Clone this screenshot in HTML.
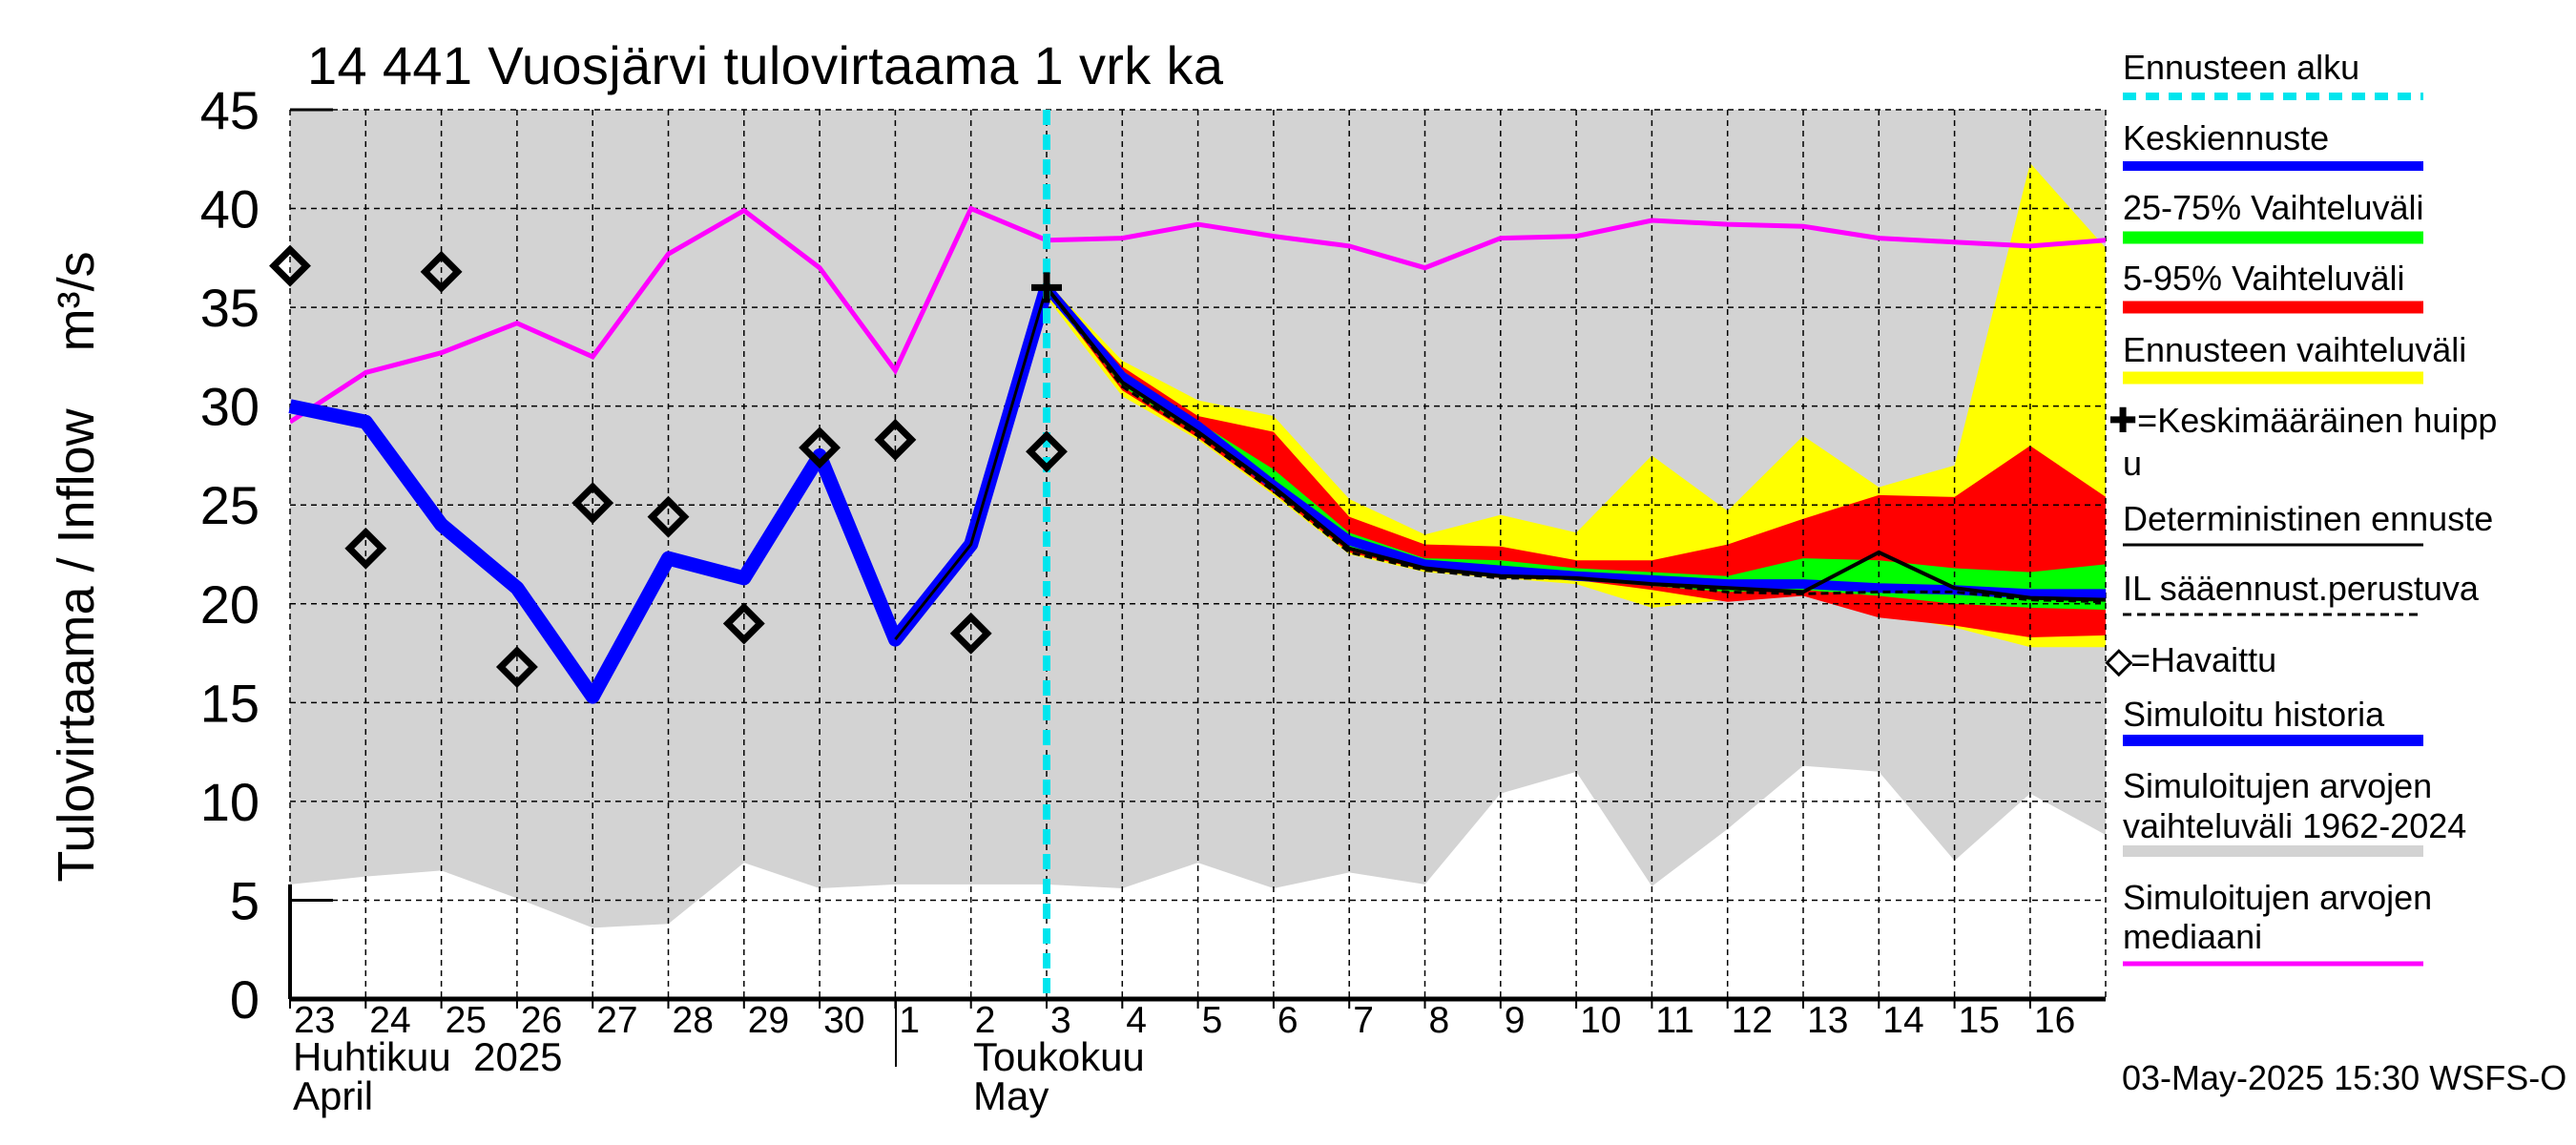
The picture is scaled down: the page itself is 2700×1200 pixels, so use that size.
<!DOCTYPE html>
<html><head><meta charset="utf-8"><style>
html,body{margin:0;padding:0;background:#fff}
svg{display:block;font-family:"Liberation Sans",sans-serif}
</style></head><body>
<svg id="chart" width="2700" height="1200" viewBox="0 0 2700 1200" xmlns="http://www.w3.org/2000/svg"></svg>
<script>
const dayLabels=["23","24","25","26","27","28","29","30","1","2","3","4","5","6","7","8","9","10","11","12","13","14","15","16"];
const yTicks=[0,5,10,15,20,25,30,35,40,45];
const simHistory=[30.0,29.2,24.0,20.8,15.3,22.3,21.3,27.5,18.2,23.0,36.0];
const observed=[37.1,22.8,36.8,16.8,25.1,24.4,19.0,27.9,28.3,18.5,27.7];
const median=[29.2,31.7,32.7,34.2,32.5,37.7,39.9,37.0,31.8,40.0,38.4,38.5,39.2,38.6,38.1,37.0,38.5,38.6,39.4,39.2,39.1,38.5,38.3,38.1,38.4];
const histMin=[5.8,6.2,6.5,5.1,3.6,3.8,6.9,5.6,5.8,5.8,5.8,5.6,6.9,5.6,6.4,5.8,10.4,11.5,5.7,8.6,11.8,11.5,7.0,10.4,8.3];
const yelHi=[36.3,32.3,30.3,29.5,25.3,23.5,24.5,23.6,27.5,24.7,28.5,25.9,27.0,42.3,38.0];
const redHi=[36.1,32.0,29.5,28.7,24.4,23.0,22.9,22.2,22.2,23.0,24.3,25.5,25.4,28.0,25.4];
const grnHi=[36.0,31.8,29.2,26.8,23.6,22.3,22.2,21.8,21.6,21.4,22.3,22.2,21.8,21.6,22.0];
const grnLo=[35.9,31.0,28.6,25.8,22.8,21.8,21.4,21.2,20.9,20.6,20.7,20.4,20.0,19.8,19.7];
const redLo=[35.8,30.8,28.4,25.6,22.6,21.7,21.3,21.2,20.7,20.1,20.4,19.3,18.9,18.3,18.4];
const yelLo=[35.5,30.5,28.3,25.5,22.5,21.6,21.3,21.0,19.8,20.2,20.6,19.5,18.8,17.8,17.8];
const meanFc=[36.0,31.5,29.0,26.0,23.2,22.0,21.7,21.4,21.2,21.0,21.0,20.8,20.7,20.5,20.5];
const determ=[36.0,31.2,28.7,25.9,22.8,21.8,21.4,21.3,21.0,20.8,20.6,22.6,20.8,20.3,20.2];
const ilFc=[36.0,31.0,28.5,25.7,22.6,21.7,21.3,21.3,21.0,20.6,20.5,20.6,20.6,20.2,20.1];
const peakDay=10, peakVal=36.0, fcStart=10;

const L=304,R=2207,T=115,B=1047,DAYW=79.3;
const X=d=>L+d*DAYW, Y=v=>B-v*(B-T)/45;
const svg=document.getElementById('chart');
const NS='http://www.w3.org/2000/svg';
function mk(tag,at,parent){const e=document.createElementNS(NS,tag);for(const k in at)e.setAttribute(k,at[k]);(parent||svg).appendChild(e);return e;}
function pts(arr,off){return arr.map((v,i)=>X(i+off).toFixed(1)+','+Y(v).toFixed(1)).join(' ');}
function band(hi,lo,off){return pts(hi,off)+' '+lo.map((v,i)=>[i,v]).reverse().map(([i,v])=>X(i+off).toFixed(1)+','+Y(v).toFixed(1)).join(' ');}

const defs=mk('defs',{});const cp=mk('clipPath',{id:'pc'},defs);mk('rect',{x:L,y:T,width:R-L,height:B-T},cp);
let g=mk('polygon',{points:X(0)+','+T+' '+X(24)+','+T+' '+pts(histMin,0).split(' ').reverse().join(' '),fill:'#d3d3d3','clip-path':'url(#pc)'});


[[yelHi,yelLo,'#ffff00','forecast-range-band'],[redHi,redLo,'#ff0000','band-5-95'],[grnHi,grnLo,'#00ff00','band-25-75']].forEach(b=>{
 const p=mk('polygon',{points:band(b[0],b[1],fcStart),fill:b[2],'clip-path':'url(#pc)'});
 
 
});
for(let d=0;d<=23;d++){mk('line',{x1:X(d),y1:T,x2:X(d),y2:B,stroke:'#000','stroke-width':1.5,'stroke-dasharray':'6,5'});}
mk('line',{x1:R,y1:T,x2:R,y2:B,stroke:'#000','stroke-width':1.5,'stroke-dasharray':'6,5'});
yTicks.forEach(v=>{if(v>0)mk('line',{x1:L,y1:Y(v),x2:R,y2:Y(v),stroke:'#000','stroke-width':1.5,'stroke-dasharray':'6,5'});});
mk('line',{x1:L,y1:Y(histMin[0]),x2:L,y2:B,stroke:'#000','stroke-width':4});
mk('line',{x1:L,y1:B,x2:R,y2:B,stroke:'#000','stroke-width':5});
mk('line',{x1:L,y1:Y(45),x2:L+45,y2:Y(45),stroke:'#000','stroke-width':3});
mk('line',{x1:L,y1:Y(5),x2:L+45,y2:Y(5),stroke:'#000','stroke-width':3});
for(let d=0;d<=23;d++)mk('line',{x1:X(d),y1:B,x2:X(d),y2:B+10,stroke:'#000','stroke-width':2});
let m=mk('polyline',{points:pts(median,0),fill:'none',stroke:'#ff00ff','stroke-width':5,'clip-path':'url(#pc)'});


let h=mk('polyline',{points:pts(simHistory,0),fill:'none',stroke:'#0000ff','stroke-width':15,'stroke-linejoin':'round'});


mk('polyline',{points:pts(simHistory.slice(8),8),fill:'none',stroke:'#000','stroke-width':3});
let mf=mk('polyline',{points:pts(meanFc,fcStart),fill:'none',stroke:'#0000ff','stroke-width':10});


let il=mk('polyline',{points:pts(ilFc,fcStart),fill:'none',stroke:'#000','stroke-width':3,'stroke-dasharray':'8,5'});


let dl=mk('polyline',{points:pts(determ,fcStart),fill:'none',stroke:'#000','stroke-width':4});


let fs=mk('line',{x1:X(fcStart),y1:T,x2:X(fcStart),y2:B,stroke:'#00e5ee','stroke-width':8,'stroke-dasharray':'16,10'});


observed.forEach((v,i)=>{const x=X(i),y=Y(v);
 const p=mk('polygon',{points:`${x},${y-17} ${x+17},${y} ${x},${y+17} ${x-17},${y}`,fill:'none',stroke:'#000','stroke-width':7});
 
 
});
{const x=X(peakDay),y=Y(peakVal);const pk=mk('path',{d:`M${x-16},${y}H${x+16}M${x},${y-16}V${y+16}`,stroke:'#000','stroke-width':7});

}
yTicks.forEach(v=>{const t=mk('text',{x:272,y:Y(v)+20,'text-anchor':'end','font-size':56});t.textContent=v;

});
dayLabels.forEach((s,i)=>{const t=mk('text',{x:X(i)+4,y:1082,'font-size':39});t.textContent=s;

});
</script>
<script>
const S=document.getElementById('chart');
function tx(x,y,s,fs,name,extra){const t=document.createElementNS('http://www.w3.org/2000/svg','text');t.setAttribute('x',x);t.setAttribute('y',y);t.setAttribute('font-size',fs);if(extra)for(const k in extra)t.setAttribute(k,extra[k]);t.textContent=s;


S.appendChild(t);return t;}
function ln(x1,y1,x2,y2,c,w,da,name){const l=document.createElementNS('http://www.w3.org/2000/svg','line');l.setAttribute('x1',x1);l.setAttribute('y1',y1);l.setAttribute('x2',x2);l.setAttribute('y2',y2);l.setAttribute('stroke',c);l.setAttribute('stroke-width',w);if(da)l.setAttribute('stroke-dasharray',da);


S.appendChild(l);}
tx(322,88,'14 441 Vuosjärvi tulovirtaama 1 vrk ka',56,'chart-title',{textLength:960});
tx(98,594,'Tulovirtaama / Inflow\u00a0\u00a0\u00a0\u00a0m³/s',54,'y-axis-title',{transform:'rotate(-90 98 594)','text-anchor':'middle'});
tx(307,1122,'Huhtikuu\u00a0\u00a02025',42,'month-label-april-fi');
tx(307,1163,'April',42,'month-label-april');
tx(1020,1122,'Toukokuu',42,'month-label-may-fi');
tx(1020,1163,'May',42,'month-label-may');
ln(939,1047,939,1118,'#000',2,null,'month-separator');
tx(2224,1142,'03-May-2025 15:30 WSFS-O',36,'timestamp');
const lx=2225,lx2=2540;
tx(lx,83,'Ennusteen alku',36,'legend-forecast-start');ln(lx,101,lx2,101,'#00e5ee',8,'14,10','legend-forecast-start-line');
tx(lx,157,'Keskiennuste',36,'legend-mean-forecast');ln(lx,174,lx2,174,'#0000ff',10,null,'legend-mean-line');
tx(lx,230,'25-75% Vaihteluväli',36,'legend-25-75');ln(lx,249,lx2,249,'#00ff00',13,null,'legend-25-75-swatch');
tx(lx,304,'5-95% Vaihteluväli',36,'legend-5-95');ln(lx,322,lx2,322,'#ff0000',13,null,'legend-5-95-swatch');
tx(lx,379,'Ennusteen vaihteluväli',36,'legend-forecast-range');ln(lx,396,lx2,396,'#ffff00',13,null,'legend-forecast-range-swatch');
tx(2210,453,'✚=Keskimääräinen huipp',36,'legend-peak');tx(lx,498,'u',36,'legend-peak-cont');
tx(lx,556,'Deterministinen ennuste',36,'legend-deterministic');ln(lx,571,lx2,571,'#000',3,null,'legend-deterministic-line');
tx(lx,629,'IL sääennust.perustuva',36,'legend-il');ln(lx,644,lx2,644,'#000',3,'9,6','legend-il-line');
tx(2207,704,'◇',36,'legend-observed-symbol',{'font-weight':'bold'});tx(2233,704,'=Havaittu',36,'legend-observed');
tx(lx,761,'Simuloitu historia',36,'legend-history');ln(lx,776,lx2,776,'#0000ff',12,null,'legend-history-line');
tx(lx,836,'Simuloitujen arvojen',36,'legend-range-1');tx(lx,878,'vaihteluväli 1962-2024',36,'legend-range-2');ln(lx,892,lx2,892,'#d3d3d3',12,null,'legend-range-swatch');
tx(lx,953,'Simuloitujen arvojen',36,'legend-median-1');tx(lx,994,'mediaani',36,'legend-median-2');ln(lx,1010,lx2,1010,'#ff00ff',5,null,'legend-median-line');
</script>
</body></html>
